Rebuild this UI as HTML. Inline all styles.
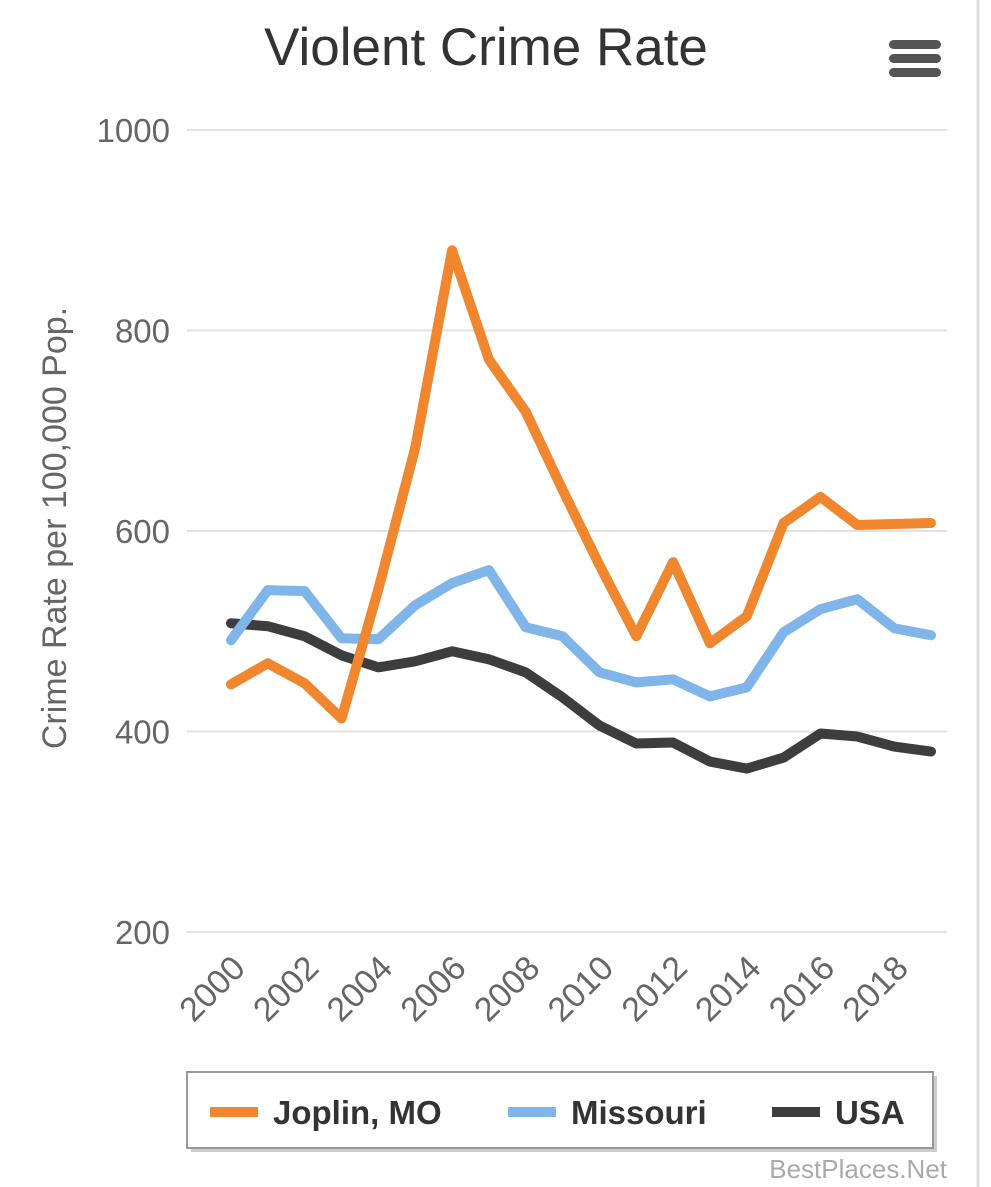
<!DOCTYPE html>
<html><head><meta charset="utf-8">
<style>
body{margin:0;background:#fff;width:991px;height:1187px;overflow:hidden;font-family:"Liberation Sans",sans-serif;}
</style></head>
<body>
<svg width="991" height="1187" style="position:absolute;left:0;top:0">
<line x1="978" y1="0" x2="978" y2="1187" stroke="#ddd" stroke-width="3"/>
<text x="486" y="65" text-anchor="middle" font-size="53" fill="#333">Violent Crime Rate</text>
<g fill="#555">
<rect x="889" y="40" width="52" height="9" rx="4.5"/><rect x="889" y="54" width="52" height="9" rx="4.5"/><rect x="889" y="68" width="52" height="9" rx="4.5"/>
</g>
<text transform="translate(66,528) rotate(-90)" text-anchor="middle" font-size="34" fill="#666">Crime Rate per 100,000 Pop.</text>
<g id="grid"></g><g id="xl"></g><g id="series"></g>
<g>
<rect x="191" y="1076" width="746" height="76" fill="#ccc"/>
<rect x="187" y="1072" width="746" height="76" fill="#fff" stroke="#999" stroke-width="2"/>
<g><rect x="210" y="1107" width="48" height="10" fill="#f0862e"/><text x="273" y="1124" font-size="33" font-weight="bold" fill="#333">Joplin, MO</text></g>
<g><rect x="508" y="1107" width="48" height="10" fill="#7fb5e8"/><text x="571" y="1124" font-size="33" font-weight="bold" fill="#333">Missouri</text></g>
<g><rect x="772" y="1107" width="48" height="10" fill="#3d3d40"/><text x="835" y="1124" font-size="33" font-weight="bold" fill="#333">USA</text></g>
</g>
<text x="947" y="1178" text-anchor="end" font-size="26" fill="#aaa">BestPlaces.Net</text>
</svg>
<script>
const years=[2000,2001,2002,2003,2004,2005,2006,2007,2008,2009,2010,2011,2012,2013,2014,2015,2016,2017,2018,2019];
const joplin=[447,468,448,413,542,683,880,771,719,641,566,495,569,488,515,608,634,606,607,608];
const missouri=[491,541,540,493,492,526,548,561,504,495,459,449,452,435,444,499,522,532,503,496];
const usa=[508,505,495,476,464,470,480,472,459,434,406,388,389,370,363,374,398,395,385,380];
const yTicks=[200,400,600,800,1000];
const xLabels=[2000,2002,2004,2006,2008,2010,2012,2014,2016,2018];
const NS="http://www.w3.org/2000/svg";
const x=v=>231+(v-2000)*(700/19);
const y=v=>932-(v-200)*1.0025;
function mk(t,a,p){const e=document.createElementNS(NS,t);for(const k in a)e.setAttribute(k,a[k]);p.appendChild(e);return e;}
const grid=document.getElementById('grid');
yTicks.forEach(t=>{
 const l=mk('line',{x1:187,x2:947,y1:y(t),y2:y(t),stroke:'#e2e2e2','stroke-width':2},grid);
 
 
 const tx=mk('text',{x:170,y:y(t)+12,'text-anchor':'end','font-size':33,fill:'#666'},grid);
 tx.textContent=t;
 
 
});
const xl=document.getElementById('xl');
xLabels.forEach(v=>{
 const tx=mk('text',{transform:`translate(${x(v)+16},${970}) rotate(-45)`,'text-anchor':'end','font-size':34,fill:'#666'},xl);
 tx.textContent=v;
 
 
});
const sg=document.getElementById('series');
[[usa,'#3d3d40','usa'],[missouri,'#7fb5e8','missouri'],[joplin,'#f0862e','joplin']].forEach(([d,c,n])=>{
 const p=mk('polyline',{points:d.map((v,i)=>x(years[i])+','+y(v)).join(' '),fill:'none',stroke:c,'stroke-width':10,'stroke-linejoin':'round','stroke-linecap':'round'},sg);
 
 
});
</script>
</body></html>
